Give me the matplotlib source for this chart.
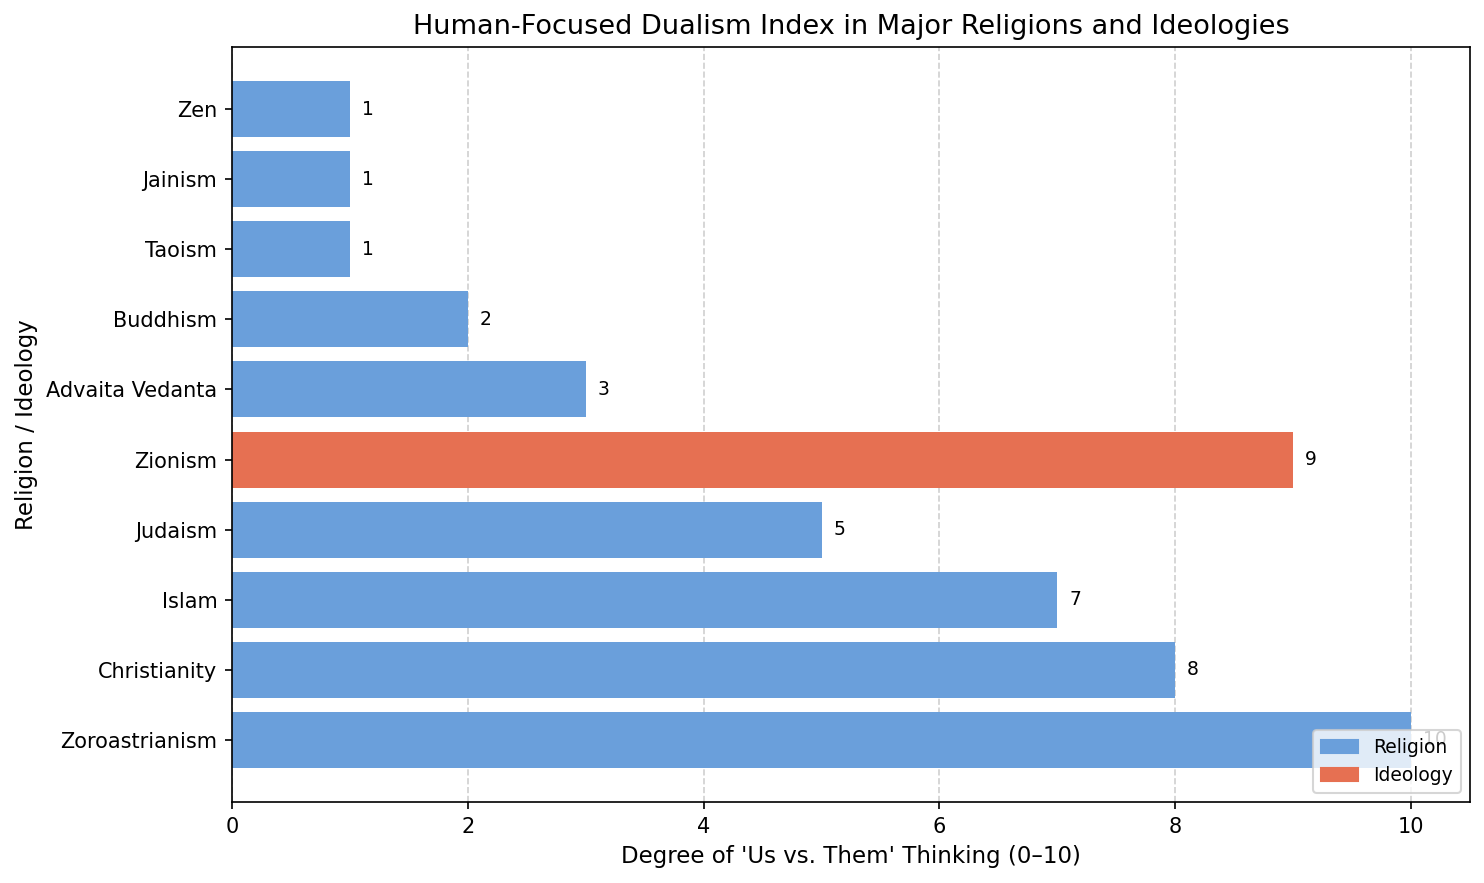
import matplotlib

matplotlib.use("Agg")
import matplotlib.pyplot as plt
from matplotlib.patches import Patch

names = ["Zoroastrianism", "Christianity", "Islam", "Judaism", "Zionism",
         "Advaita Vedanta", "Buddhism", "Taoism", "Jainism", "Zen"]
scores = [10, 8, 7, 5, 9, 3, 2, 1, 1, 1]
kinds = ["Religion", "Religion", "Religion", "Religion", "Ideology",
         "Religion", "Religion", "Religion", "Religion", "Religion"]

COLORS = {"Religion": "#6a9fdb", "Ideology": "#e67052"}


def main() -> None:
    fig, ax = plt.subplots(figsize=(1484 / 150, 883 / 150), dpi=150)
    fig.subplots_adjust(left=0.1563, right=0.9906, top=0.9468, bottom=0.0917)

    bars = ax.barh(names, scores, color=[COLORS[k] for k in kinds])
    for bar, v in zip(bars, scores):
        ax.text(bar.get_width() + 0.1, bar.get_y() + bar.get_height() / 2, str(v),
                va="center", ha="left", fontsize=9)

    ax.set_xlabel("Degree of 'Us vs. Them' Thinking (0\u201310)", fontsize=11)
    ax.set_ylabel("Religion / Ideology", fontsize=11)
    ax.set_title("Human-Focused Dualism Index in Major Religions and Ideologies", fontsize=13)
    ax.grid(axis="x", linestyle="--", alpha=0.6)
    ax.set_axisbelow(True)

    handles = [Patch(color=COLORS[k], label=k) for k in ("Religion", "Ideology")]
    ax.legend(handles=handles, loc="lower right", fontsize=9)

    fig.savefig("out.png", dpi=150)


if __name__ == "__main__":
    main()
